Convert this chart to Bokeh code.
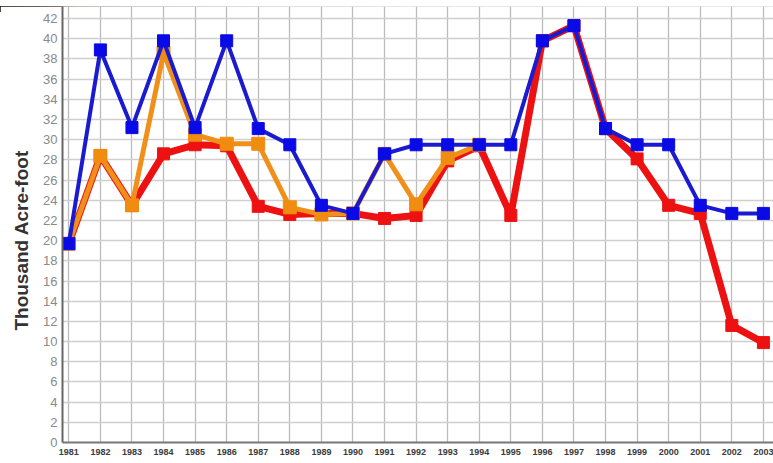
import math

from bokeh.embed import file_html
from bokeh.layouts import column
from bokeh.models import ColumnDataSource, Div, FixedTicker, Range1d
from bokeh.plotting import figure
from bokeh.resources import INLINE

# Annual volumes, thousand acre-foot
years = list(range(1981, 2004))
year_labels = [str(y) for y in years]

blue_vals = [19.7, 38.9, 31.2, 39.8, 31.2, 39.8, 31.1, 29.5, 23.5, 22.7, 28.6, 29.5,
             29.5, 29.5, 29.5, 39.8, 41.3, 31.1, 29.5, 29.5, 23.5, 22.7, 22.7]
orange_vals = [19.7, 28.4, 23.5, 38.6, 30.5, 29.6, 29.6, 23.3, 22.6, 22.7, 28.6, 23.6,
               28.2, 29.5, math.nan, math.nan, math.nan, math.nan, math.nan, math.nan,
               math.nan, math.nan, math.nan]
red_vals = [19.7, 28.4, 23.5, 28.6, 29.5, 29.4, 23.4, 22.6, 22.7, 22.7, 22.2, 22.5,
            27.9, 29.4, 22.5, 39.8, 41.3, 31.1, 28.1, 23.5, 22.7, 11.6, 9.9]

y_ticks = list(range(0, 43, 2))

p = figure(width=773, height=457, output_backend="svg", toolbar_location=None,
           x_range=Range1d(1980.8, 2003.32), y_range=Range1d(0, 43.2),
           min_border_left=62, min_border_right=0, min_border_top=0,
           min_border_bottom=21)
p.outline_line_color = None
p.background_fill_color = "white"
p.border_fill_color = "white"

# grid
p.xgrid.ticker = FixedTicker(ticks=years)
p.ygrid.ticker = FixedTicker(ticks=y_ticks)
p.xgrid.grid_line_color = "#bcbcbc"
p.ygrid.grid_line_color = "#cfcfcf"
p.xgrid.grid_line_width = 1.3
p.ygrid.grid_line_width = 1.3

# axes
p.xaxis.ticker = FixedTicker(ticks=years)
p.xaxis.major_label_overrides = {y: s for y, s in zip(years, year_labels)}
p.xaxis.major_label_text_font = "Liberation Sans"
p.xaxis.major_label_text_font_size = "9px"
p.xaxis.major_label_text_font_style = "bold"
p.xaxis.major_label_text_color = "#3a3a3a"
p.xaxis.major_label_standoff = 6
p.xaxis.major_tick_out = 0
p.xaxis.major_tick_in = 0
p.xaxis.minor_tick_line_color = None
p.xaxis.axis_line_color = "#777777"
p.xaxis.axis_line_width = 2

p.yaxis.ticker = FixedTicker(ticks=y_ticks)
p.yaxis.major_label_text_font = "Liberation Sans"
p.yaxis.major_label_text_font_size = "13px"
p.yaxis.major_label_text_color = "#8a8a8a"
p.yaxis.major_label_standoff = 5
p.yaxis.major_tick_out = 0
p.yaxis.major_tick_in = 0
p.yaxis.minor_tick_line_color = None
p.yaxis.axis_line_color = "#666666"
p.yaxis.axis_line_width = 2
# trailing no-break spaces push the rotated title a little lower
p.yaxis.axis_label = "Thousand Acre-foot" + "\u00a0" * 6
p.yaxis.axis_label_text_font = "Liberation Sans"
p.yaxis.axis_label_text_font_size = "19px"
p.yaxis.axis_label_text_font_style = "bold"
p.yaxis.axis_label_text_color = "#333333"
p.yaxis.axis_label_standoff = 8

src = ColumnDataSource(dict(year=years, blue=blue_vals, orange=orange_vals, red=red_vals))

# red underneath, orange over it, blue on top
p.line("year", "red", source=src, line_color="#ee1111", line_width=7)
p.scatter("year", "red", source=src, marker="square", size=12,
          fill_color="#ee1111", line_color="#ee1111")

p.line("year", "orange", source=src, line_color="#f0901a", line_width=5)
p.scatter("year", "orange", source=src, marker="square", size=13,
          fill_color="#f08c10", line_color="#f08c10")

p.line("year", "blue", source=src, line_color="#1a1ad0", line_width=4)
p.scatter("year", "blue", source=src, marker="square", size=12,
          fill_color="#0a0ae6", line_color="#0a0ae6")

strip = Div(width=773, height=6, margin=(0, 0, 0, 0),
            text='<div style="width:773px;height:6px;background:linear-gradient(90deg,'
                 '#1a1208 0%,#3a2c1c 5%,#8a7456 10%,#a09a90 16%,#b4bcc0 30%,'
                 '#c4d0d6 55%,#c8d4da 100%)"></div>')

layout = column(strip, p, spacing=0)

open("out.html", "w").write(file_html(layout, INLINE))
